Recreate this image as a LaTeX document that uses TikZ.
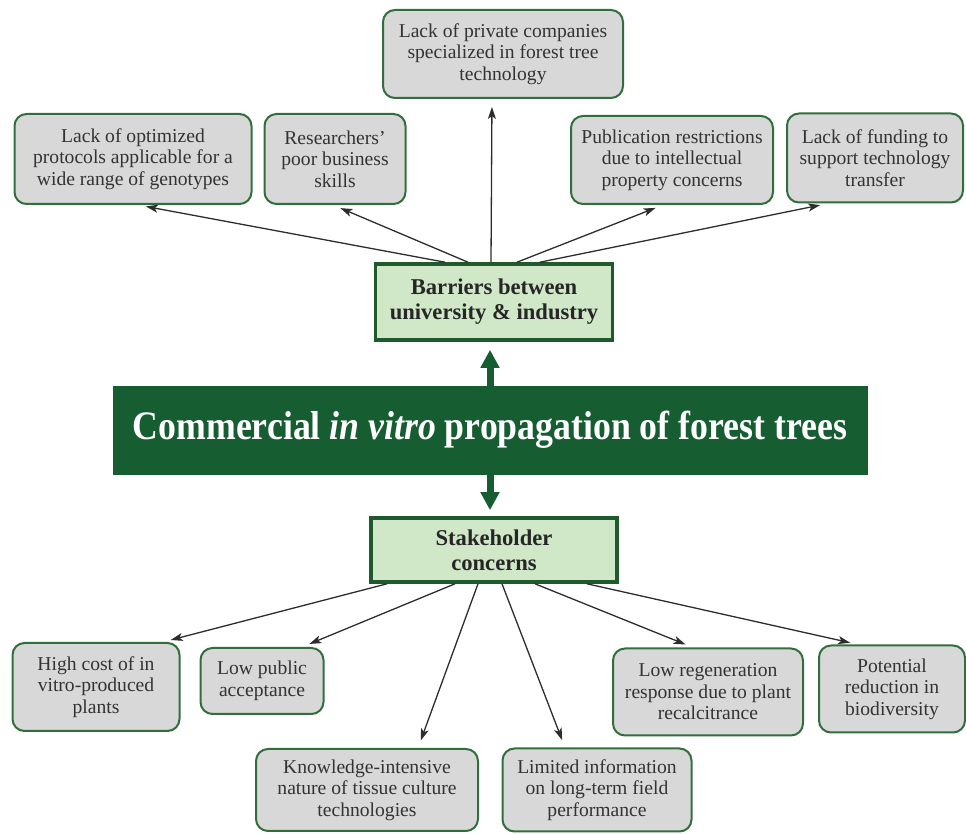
\documentclass[tikz,border=0pt]{standalone}
\usepackage{fontspec}
\setmainfont{Liberation Serif}
\newfontfamily\titlefont[FakeStretch=0.885]{Liberation Serif}
\usetikzlibrary{arrows.meta}

\definecolor{coregreen}{RGB}{22,94,50}
\definecolor{hubfill}{RGB}{208,232,200}
\definecolor{hubline}{RGB}{30,90,45}
\definecolor{issuefill}{RGB}{216,216,216}
\definecolor{issueline}{RGB}{50,110,60}
\definecolor{linkgray}{RGB}{45,45,45}

\tikzset{
  issue/.style={draw=issueline, line width=1pt, fill=issuefill, rounded corners=6pt,
    align=center, inner sep=2pt, text=black!80, font=\fontsize{9.8}{10.8}\selectfont},
  hub/.style={draw=hubline, line width=1.8pt, fill=hubfill, align=center,
    text=black!85, font=\bfseries\fontsize{11.3}{12.5}\selectfont},
  core/.style={fill=coregreen, draw=coregreen, text=white,
    font=\titlefont\bfseries\fontsize{20.2}{24}\selectfont},
  link/.style={draw=linkgray, line width=0.65pt,
    -{Stealth[length=6pt,width=4pt,inset=1.5pt]}, shorten >=4pt},
  flow/.style={draw=coregreen, line width=3.5pt,
    -{Triangle[length=9pt,width=9pt]}, shorten >=4pt}
}

\begin{document}
\begin{tikzpicture}[x=0.5pt, y=-0.5pt]
    \useasboundingbox (0, 0) rectangle (966, 834);

    % centre of the diagram
    \node[core, minimum width=377pt, minimum height=44pt] (core) at (490, 430)
        {Commercial \textit{in vitro} propagation of forest trees};
    \node[hub, minimum width=118.5pt, minimum height=38pt] (barrier) at (494, 302)
        {Barriers between\\university \& industry};
    \node[hub, minimum width=123pt, minimum height=32pt] (stake) at (494, 550)
        {Stakeholder\\concerns};

    % barriers
    \node[issue, minimum width=120pt, minimum height=44pt] (private) at (503, 54)
        {Lack of private companies\\specialized in forest tree\\technology};
    \node[issue, minimum width=118.5pt, minimum height=45pt] (optim) at (133, 159)
        {Lack of optimized\\protocols applicable for a\\wide range of genotypes};
    \node[issue, minimum width=70.5pt, minimum height=45pt] (skills) at (335, 159)
        {Researchers'\\poor business\\skills};
    \node[issue, minimum width=101pt, minimum height=44pt] (publ) at (672, 160)
        {Publication restrictions\\due to intellectual\\property concerns};
    \node[issue, minimum width=88pt, minimum height=44.5pt] (fund) at (875, 158)
        {Lack of funding to\\support technology\\transfer};

    % concerns
    \node[issue, minimum width=83.5pt, minimum height=44pt] (cost) at (96, 687)
        {High cost of in\\vitro-produced\\plants};
    \node[issue, minimum width=61.5pt, minimum height=33pt] (accept) at (262, 681)
        {Low public\\acceptance};
    \node[issue, minimum width=111pt, minimum height=41pt] (know) at (367, 790)
        {Knowledge-intensive\\nature of tissue culture\\technologies};
    \node[issue, minimum width=94.5pt, minimum height=41.5pt] (info) at (597, 790)
        {Limited information\\on long-term field\\performance};
    \node[issue, minimum width=95pt, minimum height=43.5pt] (regen) at (708, 692)
        {Low regeneration\\response due to plant\\recalcitrance};
    \node[issue, minimum width=73pt, minimum height=43.5pt] (biodiv) at (892, 689)
        {Potential\\reduction in\\biodiversity};

    \draw[flow] (core.north) -- (core.north |- barrier.south);
    \draw[flow, shorten >=3pt] (core.south) -- (core.south |- stake.north);

    \draw[link] ([xshift=-24.5pt]barrier.north) -- ([xshift=2.5pt]optim.south);
    \draw[link] ([xshift=-13pt]barrier.north) -- ([xshift=-1pt]skills.south);
    \draw[link] ([xshift=-1.5pt]barrier.north) -- ([xshift=-5.5pt]private.south);
    \draw[link] ([xshift=11.5pt]barrier.north) -- ([xshift=-4.5pt]publ.south);
    \draw[link] ([xshift=23pt]barrier.north) -- ([xshift=-23.5pt]fund.south);

    \draw[link] ([xshift=-53.5pt]stake.south) -- ([xshift=33.5pt]cost.north);
    \draw[link] ([xshift=-19.5pt]stake.south) -- ([xshift=20pt]accept.north);
    \draw[link] ([xshift=-8pt]stake.south) -- ([xshift=25.5pt]know.north);
    \draw[link] ([xshift=4pt]stake.south) -- ([xshift=-16pt]info.north);
    \draw[link] ([xshift=20.5pt]stake.south) -- ([xshift=-7.5pt]regen.north);
    \draw[link] ([xshift=46.5pt]stake.south) -- ([xshift=-17pt]biodiv.north);
\end{tikzpicture}
\end{document}
